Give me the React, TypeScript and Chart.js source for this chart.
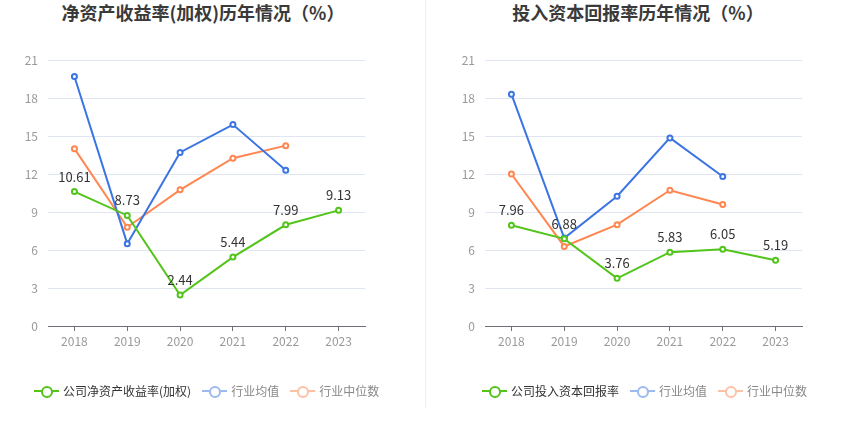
import React, { useEffect, useRef } from 'react';
import { Chart, registerables } from 'chart.js';
Chart.register(...registerables);

const years = ['2018', '2019', '2020', '2021', '2022', '2023'];
const roeCompany = [10.61, 8.73, 2.44, 5.44, 7.99, 9.13];
const roeIndustryAvg = [19.7, 6.5, 13.7, 15.9, 12.3, null];
const roeIndustryMedian = [14.0, 7.8, 10.75, 13.25, 14.24, null];
const roicCompany = [7.96, 6.88, 3.76, 5.83, 6.05, 5.19];
const roicIndustryAvg = [18.3, 6.94, 10.25, 14.85, 11.8, null];
const roicIndustryMedian = [12.0, 6.28, 8.0, 10.72, 9.59, null];
const yMin = 0;
const yMax = 21;
const yStep = 3;

const GREEN = '#52c41a';
const BLUE = '#3b74e3';
const ORANGE = '#ff8650';
const FONT = '"Noto Sans CJK SC", "Noto Sans", sans-serif';

const labelPlugin = {
  id: 'valueLabels',
  afterDatasetsDraw(chart: any) {
    const ctx = chart.ctx;
    const meta = chart.getDatasetMeta(0);
    const data = chart.data.datasets[0].data;
    ctx.save();
    ctx.font = `13px ${FONT}`;
    ctx.fillStyle = '#333';
    ctx.textAlign = 'center';
    ctx.textBaseline = 'middle';
    meta.data.forEach((pt: any, i: number) => {
      const v = data[i];
      if (v == null) return;
      ctx.fillText(Number(v).toFixed(2), pt.x, pt.y - 15);
    });
    ctx.restore();
  },
};

type PanelProps = {
  left: number;
  title: string;
  titleWidth: number;
  companyLabel: string;
  company: (number | null)[];
  avg: (number | null)[];
  median: (number | null)[];
  padLeft: number;
  padRight: number;
  legendLeft: number;
};

function LegendItem({ color, text, textColor }: { color: string; text: string; textColor: string }) {
  return (
    <div style={{ display: 'flex', alignItems: 'center', marginRight: 11 }}>
      <div style={{ position: 'relative', width: 25, height: 12, marginRight: 4 }}>
        <div style={{ position: 'absolute', left: 0, top: 5, width: 25, height: 2, background: color }} />
        <div
          style={{
            position: 'absolute',
            left: 6.5,
            top: 0.5,
            width: 8,
            height: 8,
            borderRadius: '50%',
            border: `2px solid ${color}`,
            background: '#fff',
          }}
        />
      </div>
      <span style={{ fontSize: 12, color: textColor, whiteSpace: 'nowrap', lineHeight: '12px' }}>{text}</span>
    </div>
  );
}

function Panel(p: PanelProps) {
  const ref = useRef<HTMLCanvasElement | null>(null);
  useEffect(() => {
    if (!ref.current) return;
    const mk = (label: string, data: (number | null)[], color: string) => ({
      label,
      data,
      borderColor: color,
      backgroundColor: '#fff',
      pointBackgroundColor: '#fff',
      pointBorderColor: color,
      pointRadius: 2.5,
      pointBorderWidth: 2,
      borderWidth: 2,
      tension: 0,
      spanGaps: false,
    });
    const chart = new Chart(ref.current, {
      type: 'line',
      data: {
        labels: years,
        datasets: [
          mk(p.companyLabel, p.company, GREEN),
          mk('行业均值', p.avg, BLUE),
          mk('行业中位数', p.median, ORANGE),
        ] as any,
      },
      options: {
        animation: false,
        responsive: false,
        devicePixelRatio: 1,
        layout: { padding: { left: p.padLeft, right: p.padRight, top: 60, bottom: 81 } },
        plugins: {
          legend: { display: false },
          title: { display: false },
          tooltip: { enabled: false },
        },
        scales: {
          x: {
            type: 'category',
            offset: true,
            afterFit: (s: any) => {
              s.height = 30;
            },
            grid: {
              drawOnChartArea: false,
              drawTicks: true,
              tickLength: 5,
              color: '#6e7079',
            },
            border: { display: true, color: '#6e7079', width: 1 },
            ticks: { color: '#999', font: { size: 12, family: FONT }, padding: 3 },
          },
          y: {
            min: yMin,
            max: yMax,
            afterFit: (s: any) => {
              s.width = 40;
            },
            ticks: { stepSize: yStep, color: '#999', font: { size: 12, family: FONT }, padding: 10 },
            grid: { color: '#e0e6f1', drawTicks: false, lineWidth: 1 },
            border: { display: false },
          },
        },
      } as any,
      plugins: [labelPlugin],
    });
    return () => chart.destroy();
  }, []);

  return (
    <div style={{ position: 'absolute', left: p.left, top: 0, width: 425, height: 437 }}>
      <div
        style={{
          position: 'absolute',
          left: 0,
          top: 0,
          width: p.titleWidth,
          textAlign: 'center',
          fontSize: 18,
          fontWeight: 'bold',
          color: '#3a3a3a',
          fontFamily: FONT,
          lineHeight: '24px',
          whiteSpace: 'nowrap',
        }}
      >
        {p.title}
      </div>
      <canvas ref={ref} width={425} height={437} style={{ position: 'absolute', left: 0, top: 0 }} />
      <div
        style={{
          position: 'absolute',
          left: p.legendLeft,
          top: 385,
          display: 'flex',
          alignItems: 'center',
          fontFamily: FONT,
        }}
      >
        <LegendItem color={GREEN} text={p.companyLabel} textColor="#333" />
        <LegendItem color="#9cb9f0" text="行业均值" textColor="#888" />
        <LegendItem color="#ffc1a6" text="行业中位数" textColor="#888" />
      </div>
    </div>
  );
}

export default function App() {
  useEffect(() => {
    document.body.style.margin = '0';
  }, []);
  return (
    <div style={{ position: 'relative', width: 850, height: 437, background: '#fff', overflow: 'hidden' }}>
      <Panel
        left={0}
        title="净资产收益率(加权)历年情况（%）"
        titleWidth={406}
        companyLabel="公司净资产收益率(加权)"
        company={roeCompany}
        avg={roeIndustryAvg}
        median={roeIndustryMedian}
        padLeft={8}
        padRight={60}
        legendLeft={34}
      />
      <div style={{ position: 'absolute', left: 425, top: 0, width: 1, height: 408, background: '#eeeeee' }} />
      <Panel
        left={425}
        title="投入资本回报率历年情况（%）"
        titleWidth={426}
        companyLabel="公司投入资本回报率"
        company={roicCompany}
        avg={roicIndustryAvg}
        median={roicIndustryMedian}
        padLeft={20}
        padRight={48}
        legendLeft={57}
      />
    </div>
  );
}
